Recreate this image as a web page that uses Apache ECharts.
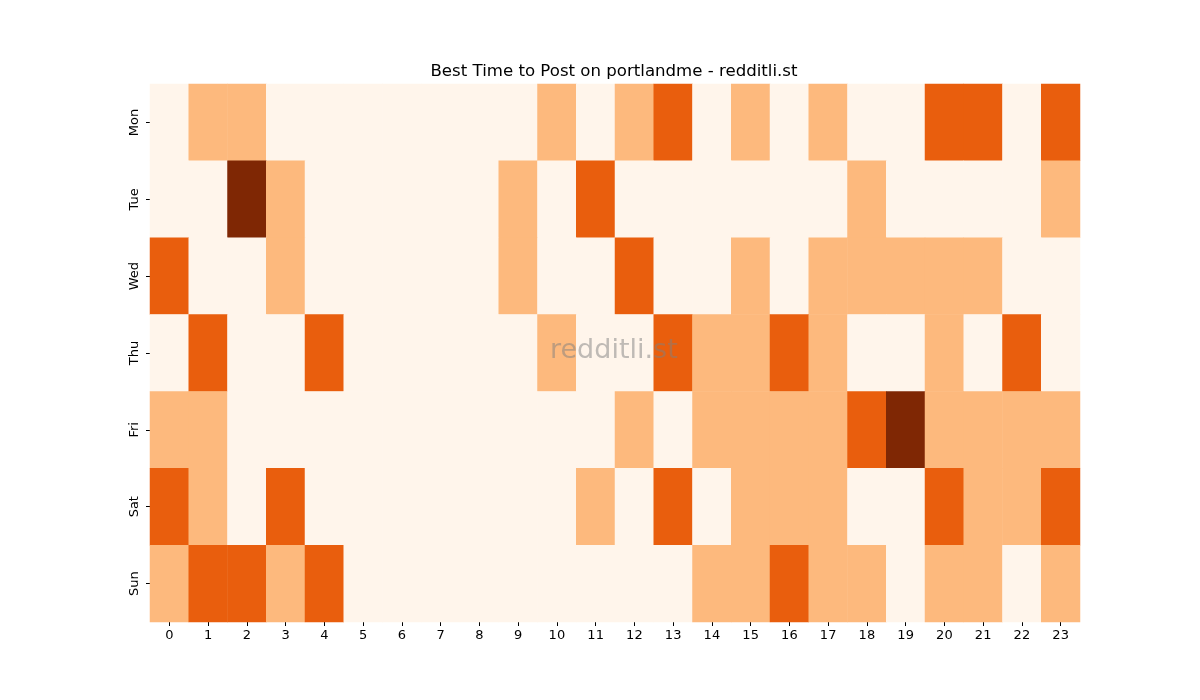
<!DOCTYPE html>
<html>
<head>
<meta charset="utf-8">
<script src="https://cdn.jsdelivr.net/npm/echarts@6/dist/echarts.min.js"></script>
<style>
  html, body { margin: 0; padding: 0; background: #fff; }
  #chart { width: 1200px; height: 700px; }
</style>
</head>
<body>
<div id="chart"></div>
<script>
var hours = ['0','1','2','3','4','5','6','7','8','9','10','11','12','13','14','15','16','17','18','19','20','21','22','23'];
var days = ['Mon','Tue','Wed','Thu','Fri','Sat','Sun'];

// activity level per hour, one row per day
var mon = [0,1,1,0,0,0,0,0,0,0,1,0,1,2,0,1,0,1,0,0,2,2,0,2];
var tue = [0,0,3,1,0,0,0,0,0,1,0,2,0,0,0,0,0,0,1,0,0,0,0,1];
var wed = [2,0,0,1,0,0,0,0,0,1,0,0,2,0,0,1,0,1,1,1,1,1,0,0];
var thu = [0,2,0,0,2,0,0,0,0,0,1,0,0,2,1,1,2,1,0,0,1,0,2,0];
var fri = [1,1,0,0,0,0,0,0,0,0,0,0,1,0,1,1,1,1,2,3,1,1,1,1];
var sat = [2,1,0,2,0,0,0,0,0,0,0,1,0,2,0,1,1,1,0,0,2,1,1,2];
var sun = [1,2,2,1,2,0,0,0,0,0,0,0,0,0,1,1,2,1,1,0,1,1,0,1];

var rows = [mon, tue, wed, thu, fri, sat, sun];
var data = [];
rows.forEach(function (row, d) {
    row.forEach(function (v, h) {
        data.push([h, d, v]);
    });
});

var chart = echarts.init(document.getElementById('chart'));
var font = 'DejaVu Sans';

chart.setOption({
    animation: false,
    backgroundColor: '#ffffff',
    title: {
        text: 'Best Time to Post on portlandme - redditli.st',
        left: 609,
        textAlign: 'center',
        top: 58,
        textStyle: { fontFamily: font, fontSize: 16.6, fontWeight: 'normal', color: '#000' }
    },
    grid: { left: 150, right: 120, top: 84, bottom: 78 },
    xAxis: {
        type: 'category',
        data: hours,
        splitArea: { show: false },
        axisLine: { show: false },
        axisTick: { show: true, alignWithLabel: true, length: 4, lineStyle: { color: '#000' } },
        axisLabel: { fontFamily: font, fontSize: 13, color: '#000', margin: 7 }
    },
    yAxis: {
        type: 'category',
        data: days,
        inverse: true,
        axisLine: { show: false },
        axisTick: { show: true, alignWithLabel: true, length: 4, lineStyle: { color: '#000' } },
        axisLabel: { fontFamily: font, fontSize: 13, color: '#000', rotate: 90, margin: 9 }
    },
    visualMap: {
        show: false,
        type: 'piecewise',
        dimension: 2,
        pieces: [
            { value: 0, color: '#fff5eb' },
            { value: 1, color: '#fdb97d' },
            { value: 2, color: '#e95e0d' },
            { value: 3, color: '#7f2704' }
        ]
    },
    graphic: [{
        type: 'text',
        left: 550,
        top: 337,
        silent: true,
        z: 100,
        style: {
            text: 'redditli.st',
            fontFamily: font,
            fontSize: 27,
            fill: 'rgba(128,128,128,0.5)'
        }
    }],
    series: [{
        type: 'heatmap',
        data: data,
        itemStyle: { borderWidth: 0 },
        emphasis: { disabled: true }
    }]
});
</script>
</body>
</html>
